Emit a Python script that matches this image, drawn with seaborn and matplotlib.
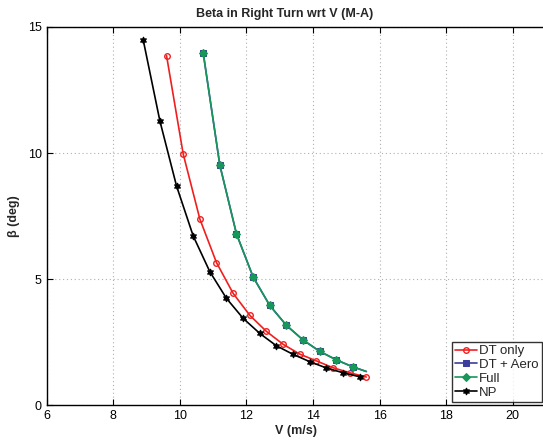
import numpy as np
import pandas as pd
import matplotlib
matplotlib.use("Agg")
import matplotlib.pyplot as plt
import seaborn as sns

# ---- data ----
v_dt = [9.6, 10.1, 10.6, 11.1, 11.6, 12.1, 12.6, 13.1, 13.6, 14.1, 14.6, 15.1, 15.6]
b_dt = [13.86, 9.96, 7.38, 5.65, 4.43, 3.56, 2.92, 2.41, 2.02, 1.75, 1.48, 1.28, 1.11]

v_aero = [10.7, 11.2, 11.7, 12.2, 12.7, 13.2, 13.7, 14.2, 14.7, 15.2, 15.6]
b_aero = [13.98, 9.52, 6.79, 5.08, 3.95, 3.16, 2.58, 2.13, 1.79, 1.51, 1.33]

v_full = [10.7, 11.2, 11.7, 12.2, 12.7, 13.2, 13.7, 14.2, 14.7, 15.2, 15.6]
b_full = [13.98, 9.52, 6.79, 5.08, 3.95, 3.16, 2.58, 2.13, 1.79, 1.51, 1.33]

v_np = [8.9, 9.4, 9.9, 10.4, 10.9, 11.4, 11.9, 12.4, 12.9, 13.4, 13.9, 14.4, 14.9, 15.4]
b_np = [14.48, 11.27, 8.69, 6.71, 5.29, 4.23, 3.44, 2.84, 2.35, 2.01, 1.72, 1.47, 1.28, 1.12]

labels = ["DT only", "DT + Aero", "Full", "NP"]
x_ticks = [6, 8, 10, 12, 14, 16, 18, 20]
y_ticks = [0, 5, 10, 15]

sns.set_style("ticks")
plt.rcParams["font.family"] = ["Liberation Sans", "DejaVu Sans"]

fig = plt.figure(figsize=(5.43, 4.40), dpi=100)
ax = fig.add_axes([46.7 / 543, 1 - 405 / 440, 499.4 / 543, 378 / 440])

red = "#f01f1f"
blue = "#3c3c9c"
green = "#17975a"

sns.lineplot(x=v_dt, y=b_dt, ax=ax, sort=False, color=red, lw=1.2,
             marker="o", markersize=4, markerfacecolor="none",
             markeredgecolor=red, markeredgewidth=1.0, label=labels[0])
sns.lineplot(x=v_aero, y=b_aero, ax=ax, sort=False, color=blue, lw=1.2,
             marker="s", markersize=4, markerfacecolor=blue,
             markeredgecolor=blue, markevery=list(range(len(v_aero) - 1)),
             label=labels[1])
sns.lineplot(x=v_full, y=b_full, ax=ax, sort=False, color=green, lw=1.2,
             marker="D", markersize=3.8, markerfacecolor=green,
             markeredgecolor=green, markevery=list(range(len(v_full) - 1)),
             label=labels[2])
sns.lineplot(x=v_np, y=b_np, ax=ax, sort=False, color="black", lw=1.2,
             marker=(6, 1, 0), markersize=5, markerfacecolor="black",
             markeredgecolor="black", label=labels[3])

ax.set_xlim(6, 21)
ax.set_ylim(0, 15)
ax.set_xticks(x_ticks)
ax.set_yticks(y_ticks)
ax.tick_params(direction="in", top=True, right=False, length=4, width=0.8,
               labelsize=9, colors="black")
ax.grid(True, linestyle=(0, (1, 2.5)), color="#b0b0b0", linewidth=0.8)
for s in ax.spines.values():
    s.set_linewidth(1.0)
    s.set_color("black")
ax.spines["right"].set_visible(False)

ax.set_title("Beta in Right Turn wrt V (M-A)", fontsize=9, fontweight="bold",
             x=(285 - 46.7) / 499.4, pad=7)
ax.set_xlabel("V (m/s)", fontsize=9, fontweight="bold", labelpad=2)
ax.set_ylabel("β (deg)", fontsize=9, fontweight="bold")
ax.yaxis.set_label_coords((20 - 46.7) / 499.4, 0.5)

leg = ax.legend(loc="lower right", bbox_to_anchor=(542 / 543, 1 - 402 / 440),
                bbox_transform=fig.transFigure, borderaxespad=0,
                fontsize=9.5, frameon=True, fancybox=False, handlelength=1.6,
                handletextpad=0.2, labelspacing=0.12, borderpad=0.25)
leg.get_frame().set_edgecolor("black")
leg.get_frame().set_linewidth(1.0)

fig.savefig("out.png", dpi=100)
